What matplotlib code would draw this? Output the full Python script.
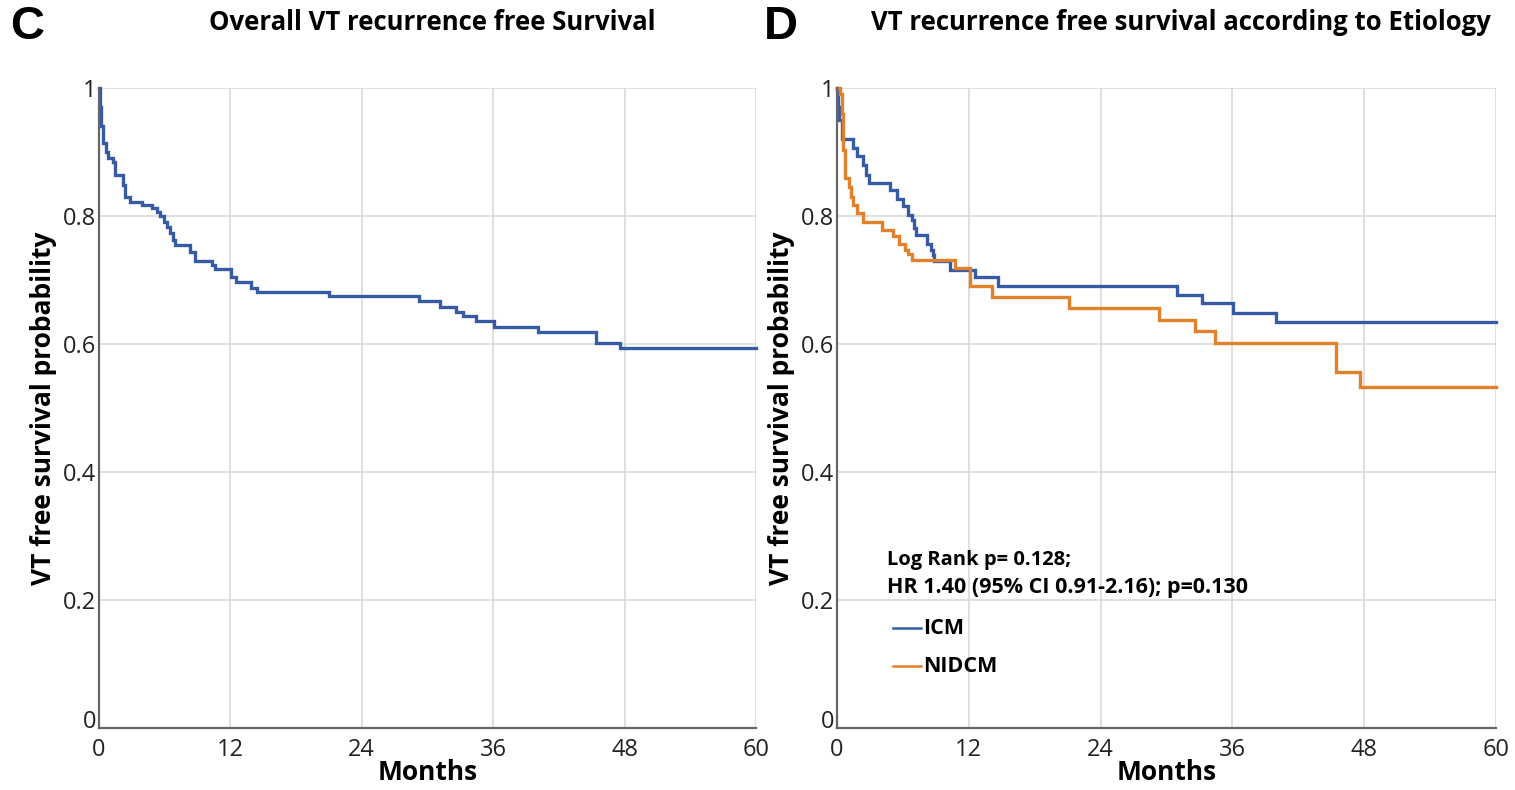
import matplotlib
matplotlib.use("Agg")
import matplotlib.pyplot as plt
from matplotlib.lines import Line2D

# ---------------- data ----------------
overall_t = [0, 0.1, 0.2, 0.4, 0.6, 0.85, 1.3, 1.5, 2.2, 2.4, 2.8, 3.9, 4.8, 5.3, 5.6, 5.9,
             6.2, 6.5, 6.8, 6.9, 8.3, 8.8, 10.3, 10.6, 12.1, 12.5, 13.9, 14.4, 21.0, 29.2,
             31.1, 32.6, 33.2, 34.4, 36.1, 40.1, 45.4, 47.6]
overall_s = [1.0, 0.97, 0.94, 0.914, 0.90, 0.89, 0.885, 0.864, 0.848, 0.83, 0.822, 0.817,
             0.812, 0.807, 0.80, 0.791, 0.783, 0.773, 0.762, 0.755, 0.744, 0.730, 0.723,
             0.717, 0.704, 0.697, 0.687, 0.682, 0.675, 0.667, 0.658, 0.650, 0.643, 0.636,
             0.626, 0.619, 0.601, 0.594]

icm_t = [0, 0.1, 0.2, 0.43, 1.5, 1.8, 2.4, 2.6, 2.95, 4.85, 5.45, 6.05, 6.5, 6.8, 7.0, 7.2,
         8.2, 8.6, 8.7, 8.8, 10.3, 12.6, 14.7, 31.0, 33.2, 36.1, 40.0]
icm_s = [1.0, 0.97, 0.95, 0.921, 0.906, 0.894, 0.880, 0.864, 0.851, 0.841, 0.827, 0.815,
         0.802, 0.794, 0.781, 0.770, 0.757, 0.747, 0.739, 0.729, 0.716, 0.704, 0.690,
         0.677, 0.664, 0.649, 0.635]

nidcm_t = [0, 0.3, 0.45, 0.57, 0.73, 1.1, 1.3, 1.5, 1.8, 2.4, 4.1, 5.1, 5.6, 6.2, 6.5, 6.8,
           10.7, 12.1, 14.1, 21.1, 29.3, 32.6, 34.4, 45.4, 47.6]
nidcm_s = [1.0, 0.99, 0.96, 0.903, 0.859, 0.846, 0.830, 0.817, 0.804, 0.791, 0.778, 0.768,
           0.757, 0.747, 0.740, 0.731, 0.718, 0.690, 0.673, 0.657, 0.6375, 0.620, 0.601,
           0.557, 0.533]

x_end = 60
x_ticks = [0, 12, 24, 36, 48, 60]
y_ticks = [0, 0.2, 0.4, 0.6, 0.8, 1.0]
y_ticklabels = ["0", "0.2", "0.4", "0.6", "0.8", "1"]

BLUE = "#375aa5"
ORANGE = "#e3802c"
FONT = "Open Sans"

plt.rcParams["font.family"] = [FONT, "DejaVu Sans"]

fig = plt.figure(figsize=(15.15, 7.9), dpi=100)
W, H = 1515, 790


def make_axes(x0, x1, ytop, ybot):
    return fig.add_axes([x0 / W, (H - ybot) / H, (x1 - x0) / W, (ybot - ytop) / H])


def style(ax):
    ax.set_xlim(0, x_end)
    ax.set_ylim(0, 1)
    ax.set_xticks(x_ticks)
    ax.set_yticks(y_ticks)
    ax.set_yticklabels(y_ticklabels)
    ax.tick_params(axis="y", length=0, labelsize=17, colors="#222222", pad=2)
    ax.tick_params(axis="x", length=0, labelsize=17, colors="#222222", pad=7)
    for s in ["top", "right"]:
        ax.spines[s].set_visible(False)
    for s in ["left", "bottom"]:
        ax.spines[s].set_color("#666666")
        ax.spines[s].set_linewidth(1.6)
    ax.grid(True, color="#d6d6d6", linewidth=1.1)
    ax.set_axisbelow(True)
    ax.set_xlabel("Months", fontsize=19, fontweight="bold", labelpad=-2)
    ax.set_ylabel("VT free survival probability", fontsize=19, fontweight="bold", labelpad=4)
    # keep the y "0" slightly above the x-axis like the reference
    ax.get_yticklabels()[0].set_va("baseline")


def step(ax, t, s, color):
    ax.step(list(t) + [x_end], list(s) + [s[-1]], where="post", color=color,
            linewidth=2.4, clip_on=False, solid_joinstyle="miter")


# ---- panel C ----
axC = make_axes(99, 756, 88, 728)
style(axC)
step(axC, overall_t, overall_s, BLUE)

# ---- panel D ----
axD = make_axes(837, 1496, 88, 728)
style(axD)
step(axD, icm_t, icm_s, BLUE)
step(axD, nidcm_t, nidcm_s, ORANGE)

fig.text(887 / W, (H - 560) / H, "Log Rank p= 0.128;", fontsize=14.5, fontweight="bold",
         va="center", ha="left")
fig.text(887 / W, (H - 587) / H, "HR 1.40 (95% CI 0.91-2.16); p=0.130", fontsize=15.5,
         fontweight="bold", va="center", ha="left")

fig.add_artist(Line2D([893 / W, 921 / W], [(H - 628) / H] * 2, color=BLUE, linewidth=1.8))
fig.text(923 / W, (H - 628) / H, "ICM", fontsize=15.5, fontweight="bold", va="center", ha="left")
fig.add_artist(Line2D([893 / W, 921 / W], [(H - 666) / H] * 2, color=ORANGE, linewidth=1.8))
fig.text(923 / W, (H - 666) / H, "NIDCM", fontsize=15.5, fontweight="bold", va="center",
         ha="left")

# ---- titles and panel letters ----
fig.text(432 / W, (H - 23) / H, "Overall VT recurrence free Survival", fontsize=18.5,
         fontweight="bold", ha="center", va="center")
fig.text(1181 / W, (H - 23) / H, "VT recurrence free survival according to Etiology",
         fontsize=18.5, fontweight="bold", ha="center", va="center")
fig.text(27 / W, (H - 27) / H, "C", fontsize=34, fontweight="bold", ha="center", va="center",
         family="Liberation Sans")
fig.text(781 / W, (H - 27) / H, "D", fontsize=34, fontweight="bold", ha="center", va="center",
         family="Liberation Sans")

fig.savefig("out.png", dpi=100, facecolor="white")
